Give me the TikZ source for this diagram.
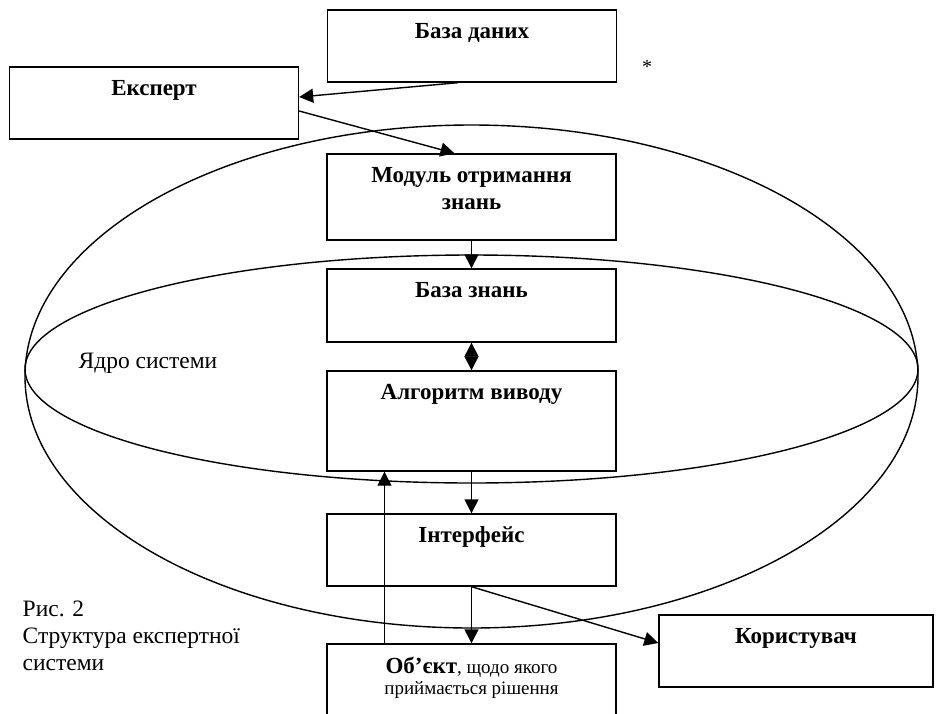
\documentclass[tikz,border=0pt]{standalone}
\usepackage{fontspec}
\setmainfont{Liberation Serif}
\usetikzlibrary{arrows.meta}

\begin{document}
\begin{tikzpicture}[x=1pt, y=-1pt, line width=1.4pt, >={Triangle[length=14pt, width=14pt]},
  box/.style={draw, rectangle, minimum width=289pt, inner sep=0pt},
  lbl/.style={anchor=north, inner sep=0pt, yshift=-13pt, align=center, font=\fontsize{23}{27}\selectfont\bfseries},
  plain/.style={inner sep=0pt, font=\fontsize{23.5}{27}\selectfont}]
  \clip (0,0) rectangle (937,713);
  % system core: two ellipses
  \draw (471.5,376.5) ellipse [x radius=446.5, y radius=251.5];
  \draw (471.5,369) ellipse [x radius=446.5, y radius=114];
  % boxes
  \node[box, minimum height=72pt, label={[lbl]north:База даних}] (bazadanykh) at (472,46) {};
  \node[box, minimum height=72pt, label={[lbl]north:Експерт}] (ekspert) at (154,103) {};
  \node[box, minimum height=86pt, label={[lbl]north:{Модуль отримання\\знань}}] (modul) at (471.5,197) {};
  \node[box, minimum height=73pt, label={[lbl]north:База знань}] (bazaznan) at (471.5,305.5) {};
  \node[box, minimum height=100pt, label={[lbl]north:Алгоритм виводу}] (algorytm) at (471.5,421) {};
  \node[box, minimum height=72pt, label={[lbl]north:Інтерфейс}] (interfeis) at (471.5,550) {};
  \node[box, minimum height=100pt, label={[lbl, font=\fontsize{19}{21}\selectfont]north:{{\fontsize{23}{21}\selectfont\bfseries Об’єкт}, щодо якого\\приймається рішення}}] (obiekt) at (471.5,694) {};
  \node[box, minimum width=274pt, minimum height=72pt, label={[lbl]north:Користувач}] (korystuvach) at (796,651) {};
  % free texts
  \node[plain, font=\fontsize{20}{21}\selectfont] (zirka) at (647,67) {*};
  \node[plain, anchor=base west] (yadro) at (78,368) {Ядро системи};
  \node[plain, anchor=north west, align=left] (pidpys) at (22,600) {Рис. 2\\Структура експертної\\системи};
  % connectors
  \draw[->] ([xshift=-14pt]bazadanykh.south) -- ([yshift=6pt]ekspert.east);
  \draw[->] ([yshift=-8pt]ekspert.east) -- ([xshift=-17pt]modul.north);
  \draw[->] (modul.south) -- (bazaznan.north);
  \draw[<->] (bazaznan.south) -- (algorytm.north);
  \draw[->] (algorytm.south) -- (interfeis.north);
  \draw[->] (interfeis.south) -- (obiekt.north);
  \draw[->] ([xshift=-87pt]obiekt.north) -- ([xshift=-87pt]algorytm.south);
  \draw[->] (interfeis.south) -- ([yshift=8pt]korystuvach.west);
\end{tikzpicture}
\end{document}
